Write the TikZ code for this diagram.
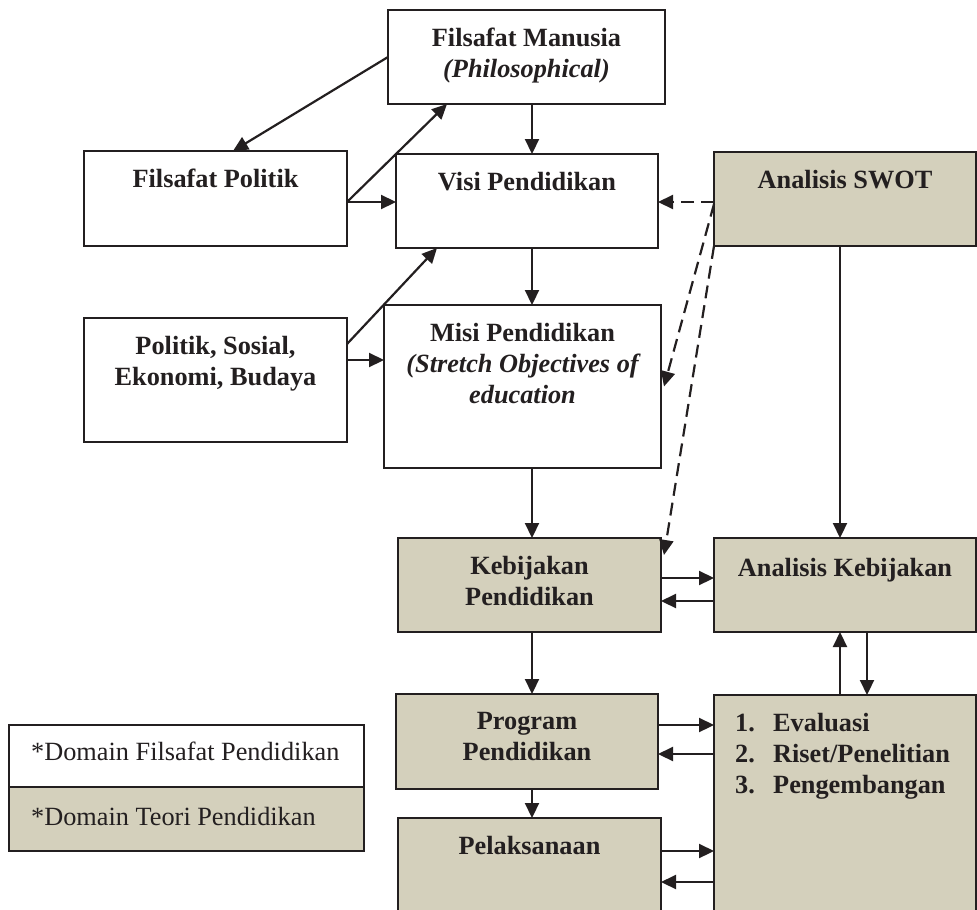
\documentclass[tikz,border=0pt]{standalone}
\usepackage{fontspec}
\setmainfont{Liberation Serif}
\usetikzlibrary{arrows.meta,calc}
\definecolor{ink}{RGB}{35,31,32}
\definecolor{theory}{RGB}{212,208,188}
\begin{document}
\begin{tikzpicture}[x=1pt,y=-1pt,
  font=\fontsize{26.3}{31}\selectfont,
  box/.style={draw=ink,line width=2pt,rectangle,inner sep=0pt,outer sep=0pt,fill=white},
  theorybox/.style={box,fill=theory},
  head/.style={anchor=north,inner sep=0pt,align=center,yshift=-18pt,text=ink,
    font=\fontsize{26.3}{31}\selectfont\bfseries},
  listhead/.style={head,anchor=north west,align=left,xshift=21pt},
  keyhead/.style={head,anchor=north west,align=left,xshift=22pt,
    font=\fontsize{26.3}{31}\selectfont\mdseries},
  arr/.style={draw=ink,line width=2.2pt,-{Triangle[length=15pt,width=14pt]}},
  dasharr/.style={arr,dash pattern=on 13pt off 7pt},
]
\useasboundingbox (0,0) rectangle (977,910);
\clip (0,0) rectangle (977,910);

% philosophy domain (white boxes)
\node[box,minimum width=277,minimum height=94,
  label={[head]north:{Filsafat Manusia\\{\itshape(Philosophical)}}}] (fm) at (526.5,57) {};
\node[box,minimum width=263,minimum height=95,
  label={[head]north:{Filsafat Politik}}] (fp) at (215.5,198.5) {};
\node[box,minimum width=262,minimum height=94,
  label={[head]north:{Visi Pendidikan}}] (visi) at (527,201) {};
\node[box,minimum width=263,minimum height=124,
  label={[head]north:{Politik, Sosial,\\Ekonomi, Budaya}}] (pse) at (215.5,380) {};
\node[box,minimum width=277,minimum height=163,
  label={[head]north:{Misi Pendidikan\\{\itshape(Stretch Objectives of}\\{\itshape education}}}] (misi) at (522.5,386.5) {};

% theory domain (shaded boxes)
\node[theorybox,minimum width=262,minimum height=94,
  label={[head]north:{Analisis SWOT}}] (swot) at (845,199) {};
\node[theorybox,minimum width=263,minimum height=94,
  label={[head]north:{Kebijakan\\Pendidikan}}] (keb) at (529.5,585) {};
\node[theorybox,minimum width=262,minimum height=94,
  label={[head,yshift=-2pt]north:{Analisis Kebijakan}}] (ak) at (845,585) {};
\node[theorybox,minimum width=262,minimum height=95,
  label={[head]north:{Program\\Pendidikan}}] (prog) at (527,741.5) {};
\node[theorybox,minimum width=263,minimum height=122,
  label={[head]north:{Pelaksanaan}}] (pel) at (529.5,879) {};
\node[theorybox,minimum width=262,minimum height=245,
  label={[listhead]north west:{\makebox[38pt][l]{1.}Evaluasi\\
    \makebox[38pt][l]{2.}Riset/Penelitian\\
    \makebox[38pt][l]{3.}Pengembangan}}] (eval) at (845,817.5) {};

% key
\node[box,minimum width=355,minimum height=62,
  label={[keyhead,yshift=1pt]north west:{*Domain Filsafat Pendidikan}}] (key1) at (186.5,756) {};
\node[theorybox,minimum width=355,minimum height=64,
  label={[keyhead,yshift=-2pt]north west:{*Domain Teori Pendidikan}}] (key2) at (186.5,819) {};

% connector lanes
\coordinate (spine) at (532,0);
\coordinate (colA) at (840,0);
\coordinate (colB) at (867,0);
\coordinate (rowV) at (0,202);
\coordinate (rowM) at (0,360);
\coordinate (rowK1) at (0,578);
\coordinate (rowK2) at (0,601);
\coordinate (rowP1) at (0,725);
\coordinate (rowP2) at (0,754);
\coordinate (rowL1) at (0,851);
\coordinate (rowL2) at (0,882);

% philosophy links
\draw[arr] (fm.west) -- ($(fp.north)+(17.5,0)$);
\draw[arr] (fp.east |- rowV) -- ($(fm.south west)+(59,0)$);
\draw[arr] (fp.east |- rowV) -- (visi.west |- rowV);
\draw[arr] (fm.south -| spine) -- (visi.north -| spine);
\draw[arr] ($(pse.north east)+(0,26)$) -- ($(visi.south west)+(41,0)$);
\draw[arr] (pse.east |- rowM) -- (misi.west |- rowM);
\draw[arr] (visi.south -| spine) -- (misi.north -| spine);
\draw[arr] (misi.south -| spine) -- (keb.north -| spine);

% SWOT influence
\draw[dasharr] (swot.west |- rowV) -- (visi.east |- rowV);
\draw[dasharr] ($(swot.west)+(0,5)$) -- ($(misi.east)+(3,0)$);
\draw[dasharr] (swot.south west) -- ($(keb.north east)+(3,17)$);
\draw[arr] (swot.south -| colA) -- (ak.north -| colA);

% policy, programme and evaluation loop
\draw[arr] (keb.east |- rowK1) -- (ak.west |- rowK1);
\draw[arr] (ak.west |- rowK2) -- (keb.east |- rowK2);
\draw[arr] (keb.south -| spine) -- (prog.north -| spine);
\draw[arr] (eval.north -| colA) -- (ak.south -| colA);
\draw[arr] (ak.south -| colB) -- (eval.north -| colB);
\draw[arr] (prog.east |- rowP1) -- (eval.west |- rowP1);
\draw[arr] (eval.west |- rowP2) -- (prog.east |- rowP2);
\draw[arr] (prog.south -| spine) -- (pel.north -| spine);
\draw[arr] (pel.east |- rowL1) -- (eval.west |- rowL1);
\draw[arr] (eval.west |- rowL2) -- (pel.east |- rowL2);
\end{tikzpicture}
\end{document}
